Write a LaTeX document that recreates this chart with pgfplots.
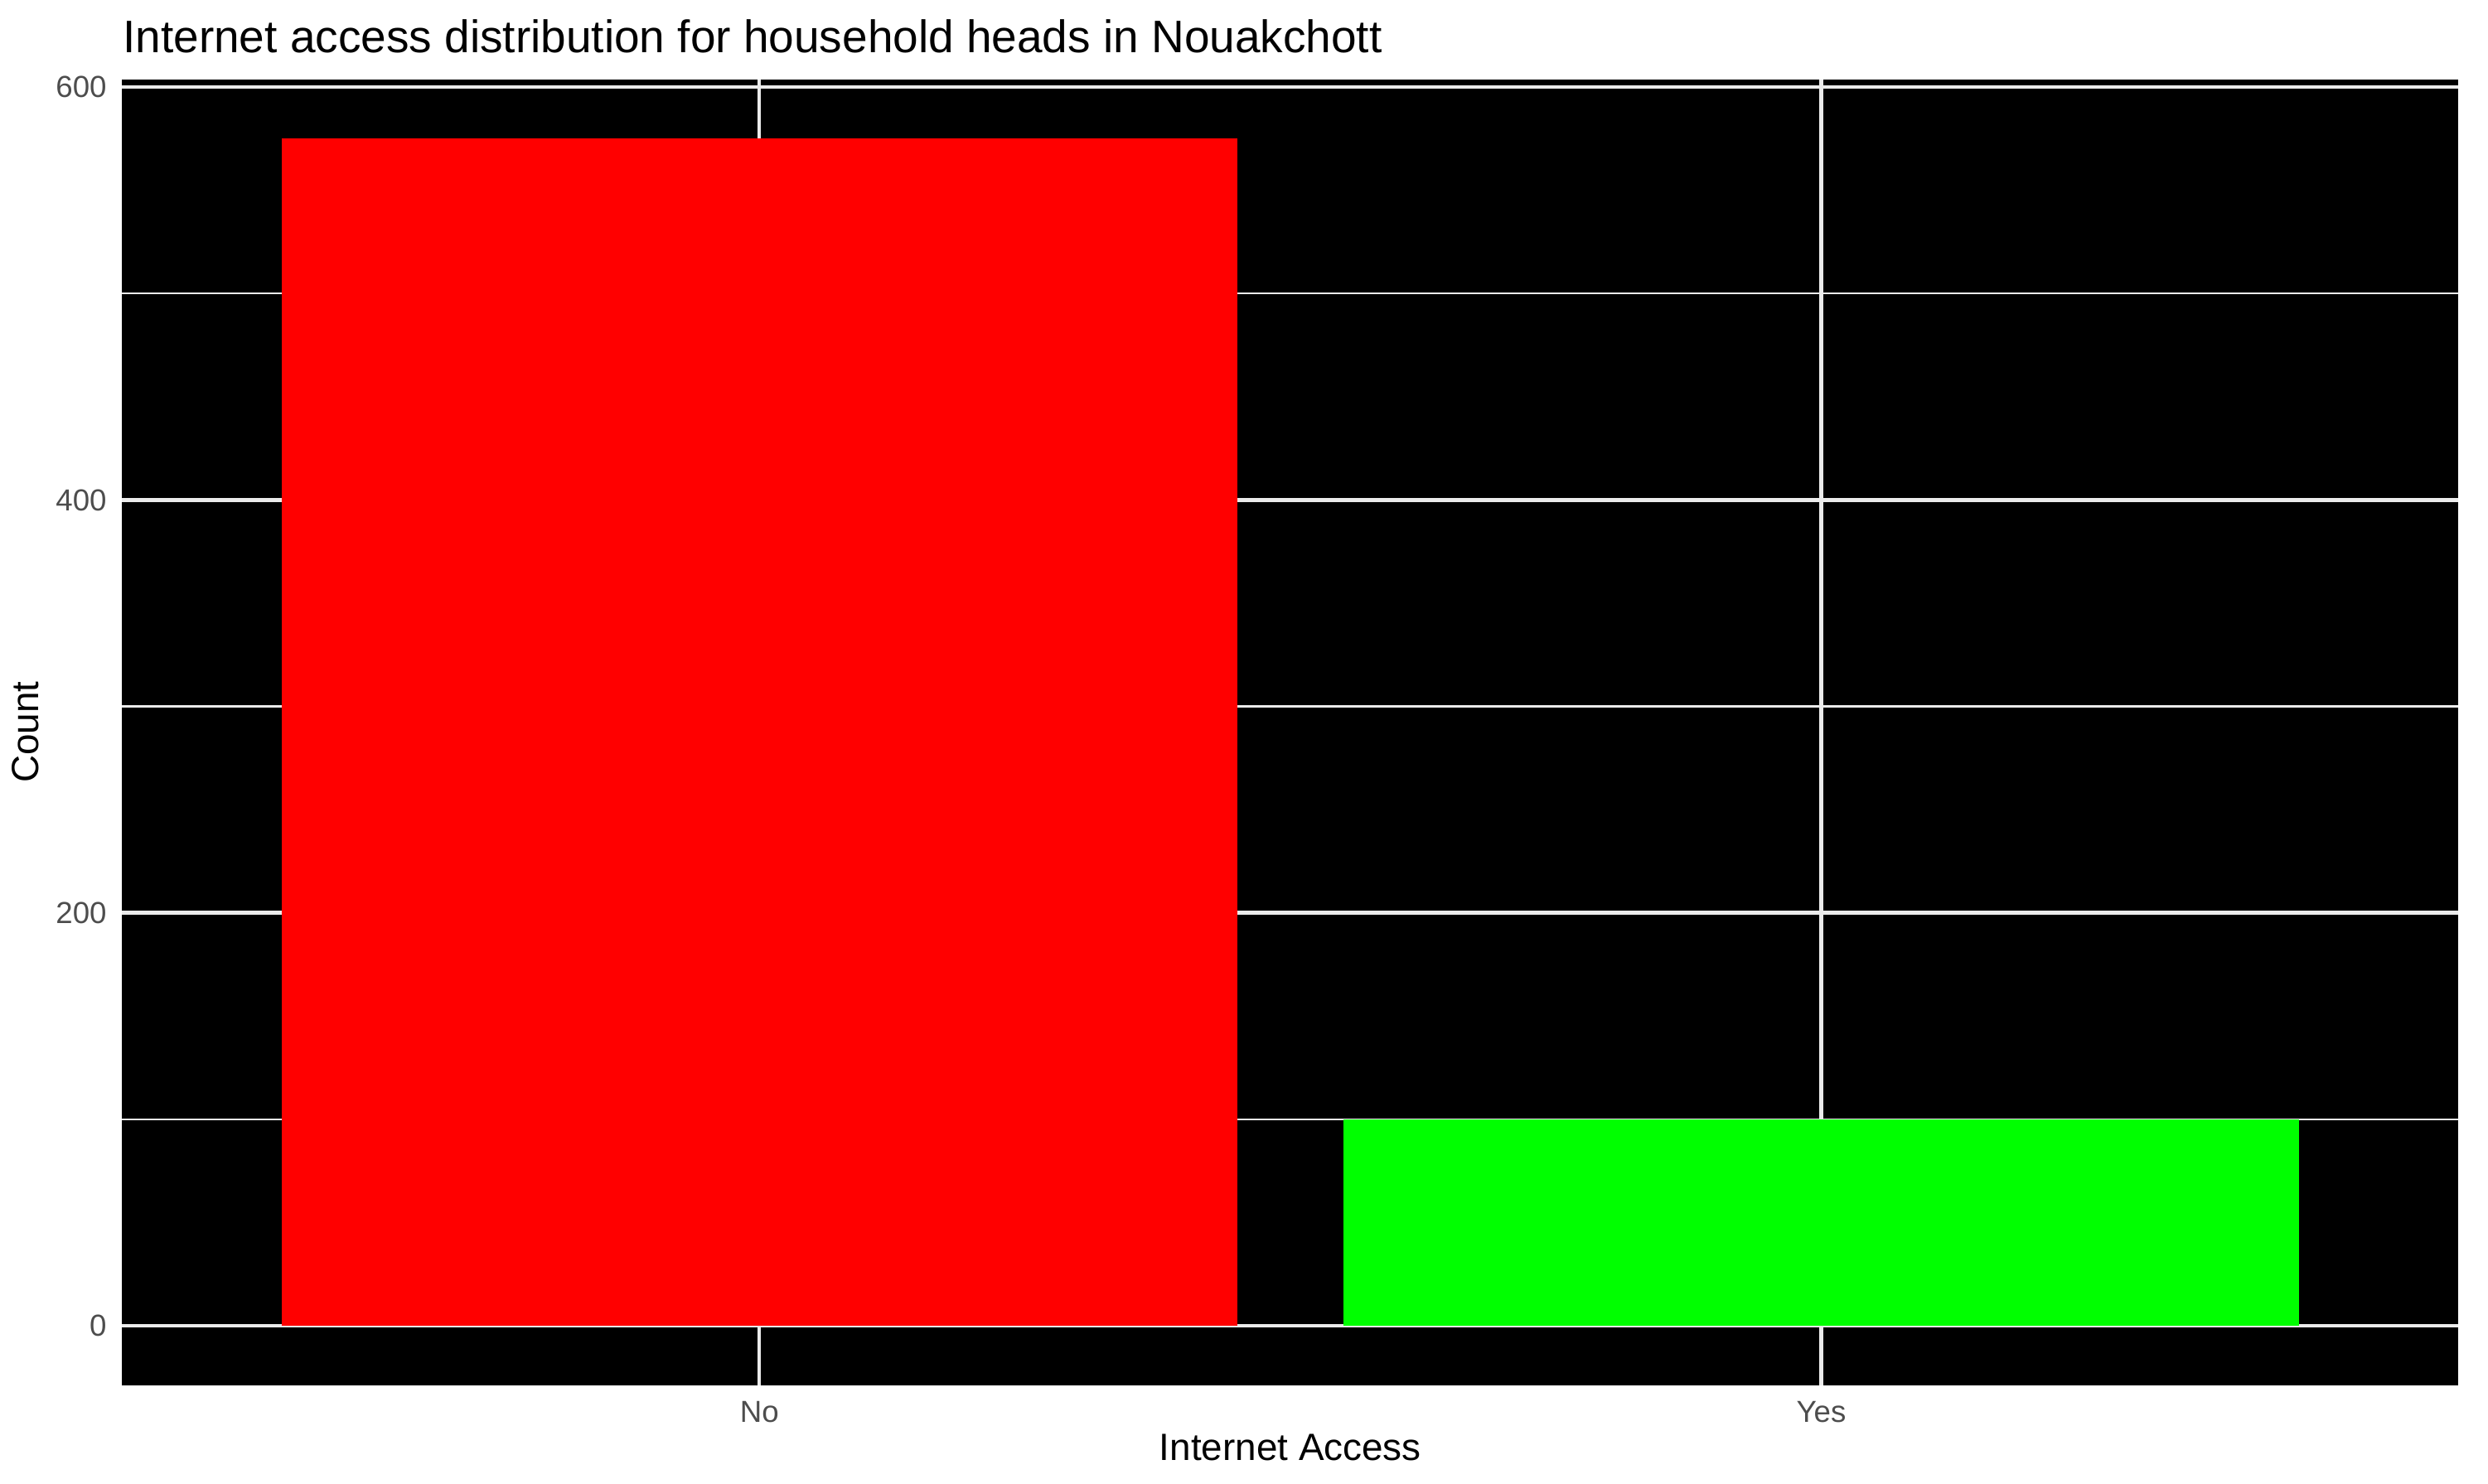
\documentclass[border=0pt]{standalone}
\usepackage{fontspec}
\setmainfont{Liberation Sans}
\usepackage{pgfplots}
\pgfplotsset{compat=1.18}
\definecolor{gridgrey}{HTML}{EBEBEB}
\definecolor{tickgrey}{HTML}{4D4D4D}
\definecolor{barred}{HTML}{FF0000}
\definecolor{bargreen}{HTML}{00FF00}

\begin{document}
\begin{tikzpicture}
 \begin{axis}[
  name=ax,
  scale only axis,
  width=676.5pt,
  height=378.2pt,
  xmin=0.4, xmax=2.6,
  ymin=-28.75, ymax=603.75,
  xtick={1,2},
  xticklabels={No,Yes},
  ytick={0,200,400,600},
  minor ytick={100,300,500},
  /pgf/number format/assume math mode=true,
  axis background/.style={fill=black},
  axis line style={draw=none},
  major tick length=0pt,
  minor tick length=0pt,
  xmajorgrids=true,
  ymajorgrids=true,
  yminorgrids=true,
  major grid style={gridgrey, line width=1.07pt},
  minor grid style={gridgrey, line width=0.53pt},
  tick label style={font=\fontsize{8.8}{10}\selectfont, text=tickgrey},
  xticklabel style={yshift=-1.2pt},
  yticklabel style={xshift=-1pt},
  xlabel={Internet Access},
  ylabel={Count},
  label style={font=\fontsize{11}{13}\selectfont},
  xlabel style={yshift=3.5pt},
  ylabel style={yshift=-2pt},
  clip=false]
  \addplot[ybar, bar width=0.9, bar shift=0pt, fill=barred, draw=none] coordinates {
   (1,575)
  };
  \addplot[ybar, bar width=0.9, bar shift=0pt, fill=bargreen, draw=none] coordinates {
   (2,100)
  };
 \end{axis}
 \node[anchor=base west, inner sep=0pt, font=\fontsize{13.2}{15}\selectfont]
  at ([yshift=7.8pt]ax.north west) {Internet access distribution for household heads in Nouakchott};
 \pgfresetboundingbox
 \path ([xshift=-35.4pt,yshift=-28.5pt]ax.south west) rectangle ([xshift=8.6pt,yshift=23pt]ax.north east);
\end{tikzpicture}
\end{document}
